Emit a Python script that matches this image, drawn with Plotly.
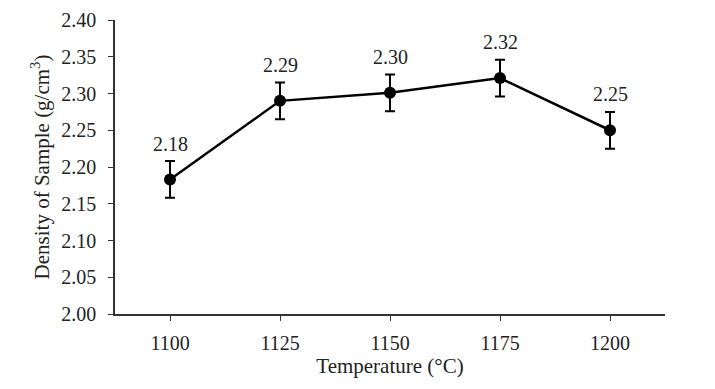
import plotly.graph_objects as go

# sintering temperature vs sample density
temps = [1100, 1125, 1150, 1175, 1200]
density = [2.183, 2.290, 2.301, 2.321, 2.250]
err = [0.025, 0.025, 0.025, 0.025, 0.025]
labels = ["2.18", "2.29", "2.30", "2.32", "2.25"]

serif = "Liberation Serif, Times New Roman, serif"
font = dict(family=serif, size=21, color="#222")
tfont = dict(family=serif, size=20, color="#222")

fig = go.Figure()
fig.add_trace(go.Scatter(
    x=temps, y=density, mode="lines+markers",
    line=dict(color="black", width=2.5),
    marker=dict(color="black", size=12),
    error_y=dict(type="data", array=err, color="black", thickness=2, width=5),
    showlegend=False,
))

# value labels above each point
for t, d, lab in zip(temps, density, labels):
    fig.add_annotation(x=t, y=d, text=lab, showarrow=False, yshift=36, font=tfont)

# page body adds an 8px offset, so top/left margins are trimmed by that
fig.update_layout(
    width=707, height=381,
    margin=dict(l=107, r=50, t=12, b=75),
    plot_bgcolor="white", paper_bgcolor="white",
    font=font,
    xaxis=dict(
        title=dict(text="Temperature (°C)", standoff=2, font=font),
        range=[1087.5, 1212.5], tickvals=temps, tickfont=tfont,
        showline=True, linecolor="#333", linewidth=1.5,
        ticks="outside", ticklen=5, tickcolor="#333", ticklabelstandoff=5,
        showgrid=False, zeroline=False, automargin=False,
    ),
    yaxis=dict(
        title=dict(text="Density of Sample (g/cm<sup>3</sup>)", standoff=6, font=font),
        range=[2.0, 2.4], dtick=0.05, tickformat=".2f", tickfont=tfont,
        showline=True, linecolor="#333", linewidth=1.5,
        ticks="outside", ticklen=5, tickcolor="#333", ticklabelstandoff=8,
        showgrid=False, zeroline=False, automargin=False,
    ),
)

fig.write_html("out.html")
